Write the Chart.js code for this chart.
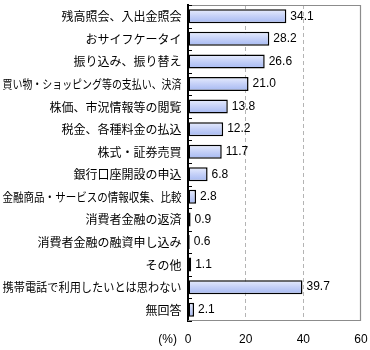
<!DOCTYPE html>
<html>
<head>
<meta charset="utf-8">
<script src="https://cdn.jsdelivr.net/npm/chart.js@4/dist/chart.umd.min.js"></script>
<style>
  html, body { margin: 0; padding: 0; background: #fff; }
  #wrap { width: 370px; height: 350px; }
</style>
</head>
<body>
<div id="wrap"><canvas id="usageChart" width="370" height="350"></canvas></div>
<script>
// Categories, top to bottom
const categories = [
  "残高照会、入出金照会",
  "おサイフケータイ",
  "振り込み、振り替え",
  "買い物・ショッピング等の支払い、決済",
  "株価、市況情報等の閲覧",
  "税金、各種料金の払込",
  "株式・証券売買",
  "銀行口座開設の申込",
  "金融商品・サービスの情報収集、比較",
  "消費者金融の返済",
  "消費者金融の融資申し込み",
  "その他",
  "携帯電話で利用したいとは思わない",
  "無回答"
];

// Share of respondents (%)
const shares = [34.1, 28.2, 26.6, 21.0, 13.8, 12.2, 11.7, 6.8, 2.8, 0.9, 0.6, 1.1, 39.7, 2.1];

const xTicks = [0, 20, 40, 60];
const unitLabel = "(%)";

const JP_FONT = '"Noto Sans CJK JP", sans-serif';
const NUM_FONT = '"Liberation Sans", Arial, sans-serif';
const BAR_PCT = 0.62;

// vertical gradient for each bar
function barFill(ctx) {
  const chart = ctx.chart;
  const y = chart.scales.y;
  if (!chart.chartArea || !y || ctx.dataIndex === undefined) return "#c4d0f6";
  const cy = y.getPixelForValue(ctx.dataIndex);
  const h = (y.height / categories.length) * BAR_PCT;
  const g = chart.ctx.createLinearGradient(0, cy - h / 2, 0, cy + h / 2);
  g.addColorStop(0, "#e8edfd");
  g.addColorStop(0.45, "#c8d3f8");
  g.addColorStop(0.85, "#aebff3");
  g.addColorStop(1, "#c2cef6");
  return g;
}

// frame, category labels, small inner ticks, values and unit
const decorations = {
  id: "decorations",
  beforeDatasetsDraw(chart) {
    const { ctx, chartArea: a } = chart;
    ctx.save();
    ctx.strokeStyle = "#8c8c8c";
    ctx.lineWidth = 1.2;
    ctx.beginPath();
    ctx.moveTo(a.left, a.top + 0.5);
    ctx.lineTo(a.right - 0.5, a.top + 0.5);
    ctx.lineTo(a.right - 0.5, a.bottom - 0.5);
    ctx.lineTo(a.left, a.bottom - 0.5);
    ctx.stroke();
    ctx.restore();
  },
  afterDatasetsDraw(chart) {
    const { ctx, chartArea: a } = chart;
    const y = chart.scales.y;
    const step = y.height / categories.length;

    ctx.save();
    // inner ticks at category boundaries
    ctx.strokeStyle = "#000";
    ctx.lineWidth = 1.2;
    ctx.beginPath();
    for (let i = 0; i <= categories.length; i++) {
      const py = Math.round(a.top + i * step) + 0.5;
      ctx.moveTo(a.left, py);
      ctx.lineTo(a.left + 4, py);
    }
    ctx.stroke();

    // category labels, squeezed to fit the margin
    ctx.fillStyle = "#000";
    ctx.font = "12px " + JP_FONT;
    ctx.textAlign = "right";
    ctx.textBaseline = "middle";
    categories.forEach((label, i) => {
      ctx.fillText(label, a.left - 6.5, y.getPixelForTick(i) + 0.5, 179);
    });

    // values at bar ends
    ctx.font = "12px " + NUM_FONT;
    ctx.textAlign = "left";
    const meta = chart.getDatasetMeta(0);
    meta.data.forEach((bar, i) => {
      ctx.fillText(shares[i].toFixed(1), bar.x + 4, bar.y);
    });

    // unit next to the x axis
    ctx.textAlign = "right";
    ctx.fillText(unitLabel, a.left - 11, a.bottom + 18.5);
    ctx.restore();
  }
};

new Chart(document.getElementById("usageChart"), {
  type: "bar",
  data: {
    labels: categories,
    datasets: [{
      data: shares,
      backgroundColor: barFill,
      borderColor: "#000",
      borderWidth: 1.5,
      borderSkipped: false,
      barPercentage: BAR_PCT,
      categoryPercentage: 1
    }]
  },
  options: {
    indexAxis: "y",
    responsive: false,
    animation: false,
    events: [],
    layout: { padding: { top: 5, right: 9, left: 0, bottom: 0 } },
    plugins: {
      legend: { display: false },
      tooltip: { enabled: false }
    },
    scales: {
      x: {
        min: xTicks[0],
        max: xTicks[xTicks.length - 1],
        afterBuildTicks: (scale) => {
          scale.ticks = xTicks.map(v => ({ value: v }));
        },
        afterFit: (scale) => {
          scale.height = 29;
          scale.paddingLeft = 0;
          scale.paddingRight = 0;
        },
        grid: {
          drawTicks: false,
          color: (c) => (c.tick && (c.tick.value === 20 || c.tick.value === 40)) ? "#b4b4b4" : "rgba(0,0,0,0)",
          lineWidth: 1
        },
        border: { display: false, dash: [4, 3] },
        ticks: {
          padding: 11,
          color: "#000",
          font: { family: NUM_FONT, size: 12 }
        }
      },
      y: {
        afterFit: (scale) => { scale.width = 188; },
        grid: { display: false },
        border: { display: true, color: "#000", width: 2 },
        ticks: { display: false }
      }
    }
  },
  plugins: [decorations]
});
</script>
</body>
</html>
